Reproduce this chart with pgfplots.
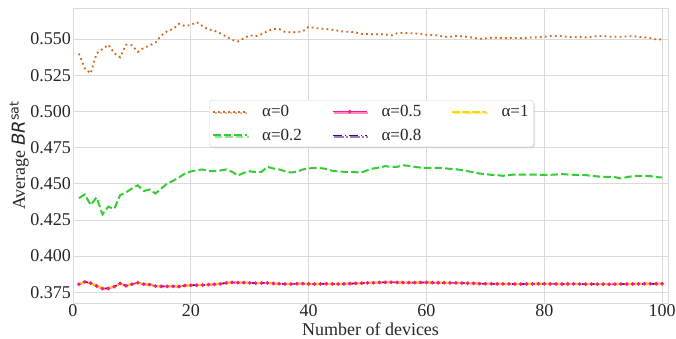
\documentclass[border=0pt]{standalone}
\usepackage{pgfplots}
\pgfplotsset{compat=1.18}
\usepackage{pgfplotstable}
\usepackage{fontspec}
\setmainfont{Liberation Serif}
\newfontfamily\dejavu{DejaVu Sans}
\usetikzlibrary{shadows}
\definecolor{cA}{HTML}{D2691E}
\definecolor{cB}{HTML}{32CD32}
\definecolor{cC}{HTML}{FF1493}
\definecolor{cD}{HTML}{4B0082}
\definecolor{cE}{HTML}{FFD700}
\definecolor{gridc}{HTML}{DADADA}
\definecolor{txt}{HTML}{262626}

\pgfplotstableread{
x a0 a02 b05 b08 b1
1 .5400 .4400 .3806 .3805 .3806
2 .5297 .4427 .3822 .3823 .3821
3 .5263 .4353 .3813 .3812 .3813
4 .5400 .4406 .3794 .3795 .3794
5 .5431 .4289 .3776 .3775 .3777
6 .5461 .4342 .3777 .3778 .3777
7 .5403 .4326 .3789 .3788 .3789
8 .5374 .4422 .3811 .3810 .3811
9 .5461 .4440 .3795 .3794 .3796
10 .5458 .4468 .3806 .3806 .3805
11 .5412 .4490 .3816 .3817 .3816
12 .5440 .4450 .3806 .3805 .3806
13 .5455 .4461 .3803 .3803 .3804
14 .5477 .4433 .3793 .3792 .3793
15 .5525 .4468 .3791 .3791 .3790
16 .5555 .4502 .3791 .3790 .3791
17 .5570 .4521 .3791 .3792 .3791
18 .5606 .4544 .3790 .3789 .3790
19 .5590 .4571 .3797 .3797 .3798
20 .5598 .4585 .3799 .3798 .3799
21 .5617 .4594 .3799 .3800 .3799
22 .5590 .4599 .3800 .3800 .3801
23 .5567 .4587 .3803 .3802 .3803
24 .5558 .4587 .3805 .3805 .3804
25 .5540 .4592 .3808 .3809 .3808
26 .5518 .4599 .3815 .3814 .3815
27 .5495 .4583 .3818 .3818 .3817
28 .5484 .4557 .3817 .3816 .3817
29 .5505 .4576 .3817 .3818 .3817
30 .5527 .4587 .3815 .3815 .3814
31 .5520 .4580 .3813 .3812 .3813
32 .5534 .4583 .3814 .3814 .3815
33 .5555 .4617 .3815 .3816 .3815
34 .5570 .4606 .3811 .3810 .3811
35 .5570 .4599 .3809 .3809 .3808
36 .5549 .4587 .3808 .3807 .3808
37 .5547 .4578 .3807 .3807 .3808
38 .5549 .4583 .3809 .3810 .3809
39 .5553 .4599 .3810 .3810 .3809
40 .5586 .4606 .3808 .3807 .3808
41 .5577 .4610 .3807 .3807 .3806
42 .5573 .4608 .3808 .3809 .3808
43 .5570 .4603 .3809 .3808 .3809
44 .5564 .4590 .3808 .3808 .3807
45 .5558 .4585 .3807 .3806 .3807
46 .5551 .4583 .3808 .3808 .3809
47 .5551 .4583 .3810 .3809 .3810
48 .5546 .4580 .3812 .3812 .3811
49 .5535 .4578 .3813 .3814 .3813
50 .5535 .4594 .3815 .3814 .3815
51 .5533 .4606 .3816 .3816 .3817
52 .5533 .4612 .3818 .3817 .3818
53 .5533 .4622 .3819 .3819 .3818
54 .5525 .4617 .3820 .3819 .3820
55 .5540 .4617 .3818 .3818 .3819
56 .5544 .4628 .3817 .3818 .3817
57 .5540 .4624 .3817 .3816 .3817
58 .5540 .4617 .3817 .3817 .3818
59 .5535 .4612 .3818 .3817 .3818
60 .5530 .4610 .3818 .3818 .3817
61 .5528 .4610 .3817 .3816 .3817
62 .5525 .4610 .3816 .3816 .3817
63 .5516 .4608 .3816 .3815 .3816
64 .5516 .4603 .3815 .3815 .3814
65 .5521 .4601 .3815 .3814 .3815
66 .5519 .4594 .3814 .3814 .3813
67 .5516 .4587 .3813 .3812 .3813
68 .5509 .4580 .3812 .3812 .3811
69 .5502 .4571 .3810 .3809 .3810
70 .5505 .4567 .3809 .3809 .3808
71 .5509 .4562 .3809 .3808 .3809
72 .5509 .4560 .3808 .3808 .3809
73 .5507 .4555 .3808 .3807 .3808
74 .5509 .4560 .3808 .3808 .3807
75 .5507 .4564 .3807 .3806 .3807
76 .5507 .4564 .3807 .3807 .3808
77 .5509 .4564 .3808 .3807 .3808
78 .5512 .4564 .3808 .3808 .3809
79 .5512 .4562 .3809 .3808 .3809
80 .5516 .4562 .3809 .3809 .3808
81 .5521 .4562 .3808 .3807 .3808
82 .5521 .4564 .3808 .3808 .3807
83 .5521 .4567 .3807 .3806 .3807
84 .5516 .4564 .3808 .3807 .3808
85 .5512 .4562 .3808 .3808 .3809
86 .5516 .4562 .3807 .3806 .3807
87 .5512 .4560 .3806 .3806 .3807
88 .5516 .4555 .3807 .3807 .3806
89 .5521 .4551 .3806 .3805 .3806
90 .5521 .4548 .3806 .3806 .3807
91 .5516 .4548 .3806 .3805 .3806
92 .5516 .4546 .3806 .3806 .3807
93 .5516 .4537 .3807 .3806 .3807
94 .5519 .4546 .3807 .3807 .3808
95 .5521 .4553 .3808 .3807 .3808
96 .5516 .4555 .3808 .3808 .3809
97 .5512 .4555 .3809 .3808 .3809
98 .5507 .4553 .3809 .3809 .3808
99 .5498 .4546 .3809 .3808 .3809
100 .5498 .4544 .3809 .3809 .3810
}\datatable

\begin{document}
\begin{tikzpicture}
\begin{axis}[
  scale only axis,
  width=595pt, height=295pt,
  xmin=0, xmax=101, ymin=0.3676, ymax=0.5715,
  xtick={0,20,40,60,80,100},
  ytick={0.375,0.400,0.425,0.450,0.475,0.500,0.525,0.550},
  yticklabel style={/pgf/number format/fixed,/pgf/number format/fixed zerofill,/pgf/number format/precision=3},
  /pgf/number format/assume math mode=true,
  grid=major,
  major grid style={color=gridc, line width=0.9pt},
  axis line style={color=gridc, line width=0.9pt},
  tick style={draw=none},
  tick label style={font=\fontsize{18}{18}\selectfont, text=txt},
  xticklabel style={inner sep=1.5pt},
  yticklabel style={inner sep=2pt},
  label style={font=\fontsize{18}{18}\selectfont, text=txt},
  xlabel={Number of devices},
  ylabel={Average {\dejavu\itshape BR}\textsuperscript{\dejavu sat}},
  xlabel style={yshift=-1pt},
  ylabel style={yshift=-4pt},
  transpose legend,
  legend columns=2,
  legend cell align=left,
  legend style={at={(0.2286,0.688)}, anchor=north west,
    draw=gray!35, fill=white, rounded corners=3pt,
    drop shadow={shadow xshift=1.5pt, shadow yshift=-1.5pt, fill=gray!45},
    font=\fontsize{17}{17}\selectfont, text=txt,
    inner xsep=3pt, inner ysep=3pt, row sep=7pt,
    /tikz/every odd column/.append style={column sep=12pt},
    /tikz/every even column/.append style={column sep=28pt}},
  legend image code/.code={\draw[mark repeat=2,mark phase=2,#1] plot coordinates {(0pt,0pt) (17pt,0pt) (34pt,0pt)};},
]
\addplot[color=cA, line width=1.8pt, dash pattern=on 1.8pt off 3.2pt] table[x=x,y=a0] {\datatable};
\addlegendentry{α=0}
\addplot[color=cB, line width=2pt, dash pattern=on 7.4pt off 3.2pt] table[x=x,y=a02] {\datatable};
\addlegendentry{α=0.2}
\addplot[color=cC, line width=1.6pt, mark=*, mark size=0.9pt, mark options={fill=cC, draw=cC}] table[x=x,y=b05] {\datatable};
\addlegendentry{α=0.5}
\addplot[color=cD, line width=1.4pt, dash pattern=on 9.6pt off 2.4pt on 1.6pt off 2.4pt] table[x=x,y=b08] {\datatable};
\addlegendentry{α=0.8}
\addplot[color=cE, line width=2.2pt, dash pattern=on 7.4pt off 2.6pt] table[x=x,y=b1] {\datatable};
\addlegendentry{α=1}
\end{axis}
\pgfresetboundingbox
\path ([xshift=-73pt,yshift=-35pt]current axis.south west) rectangle ([xshift=8pt,yshift=8pt]current axis.north east);
\end{tikzpicture}
\end{document}
